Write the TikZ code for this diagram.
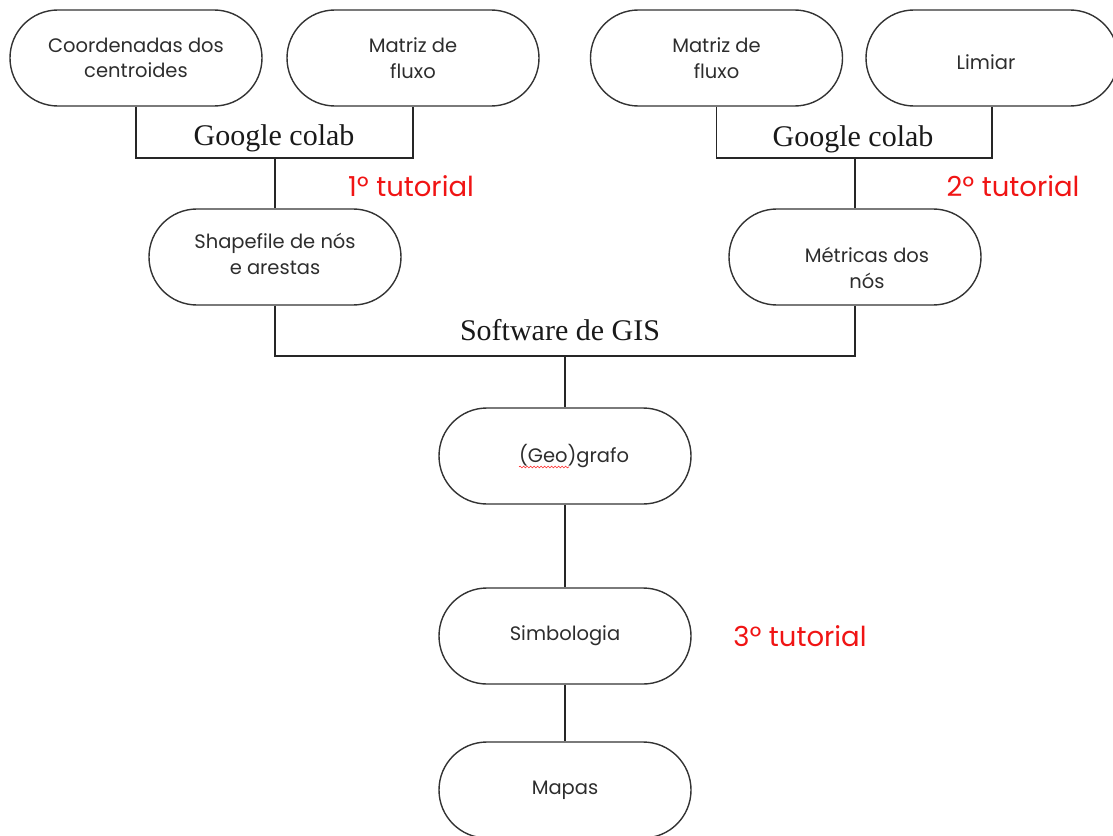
\documentclass[tikz,border=0pt]{standalone}
\usepackage{fontspec}
\setmainfont{Poppins}
\newfontfamily\serifface{Liberation Serif}
\usetikzlibrary{decorations.pathmorphing}
\definecolor{boxtext}{RGB}{45,45,45}
\definecolor{tutred}{RGB}{240,20,20}
\tikzset{
  pill/.style={draw=black!80, line width=1.4pt, rounded corners=47.9pt,
    minimum width=252pt, minimum height=96pt, inner sep=0pt, align=center,
    text=boxtext, font=\fontsize{19.5}{25.5}\selectfont},
  pilltext/.style={inner sep=0pt, align=center, text=boxtext, font=\fontsize{19.5}{26.5}\selectfont},
  link/.style={draw=black!85, line width=1.4pt},
  grouplabel/.style={font=\serifface\fontsize{30}{30}\selectfont, text=black!90, inner sep=0pt},
  tutlabel/.style={font=\fontsize{27.5}{27.5}\selectfont, text=tutred, inner sep=0pt}
}
\begin{document}
\begin{tikzpicture}[x=1pt,y=-1pt]
\useasboundingbox (0,0) rectangle (1113,835);
\begin{scope}
\clip (0,0) rectangle (1113,835);
\node[pill] (b1) at (136,58) {Coordenadas dos\\centroides};
\node[pill] (b2) at (413,58) {Matriz de\\fluxo};
\node[pill] (b3) at (716.5,58) {Matriz de\\fluxo};
\node[pill] (b4) at (992,58) {};
\node[pill] (b5) at (275,257) {};
\node[pill] (b6) at (855,257) {};
\node[pill] (b7) at (565,456) {\hspace*{18pt}(Geo)grafo};
\node[pill] (b8) at (565,636) {Simbologia};
\node[pill] (b9) at (565,790) {Mapas};
\end{scope}
\node[pilltext] (b4t) at (986,62) {Limiar};
\node[pilltext] (b5t) at (275,254) {Shapefile de nós\\e arestas};
\node[pilltext] (b6t) at (867,268) {Métricas dos\\nós};

\coordinate (j1) at (275,158);
\coordinate (j2) at (855,158);
\coordinate (j3) at (565,356);

\draw[link] (b1.south) |- (j1) -| (b2.south);
\draw[link] (j1) -- (b5.north);
\draw[link] (b3.south) |- (j2) -| (b4.south);
\draw[link] (j2) -- (b6.north);
\draw[link] (b5.south) |- (j3) -| (b6.south);
\draw[link] (j3) -- (b7.north);
\draw[link] (b7.south) -- (b8.north);
\draw[link] (b8.south) -- (b9.north);

\node[grouplabel] (g1) at (274,138) {Google colab};
\node[grouplabel] (g2) at (853,139) {Google colab};
\node[grouplabel] (g3) at (560,330) {Software de GIS};

\node[tutlabel] (t1) at (411,186) {1º tutorial};
\node[tutlabel] (t2) at (1013,186) {2º tutorial};
\node[tutlabel] (t3) at (800,636) {3º tutorial};

\coordinate (sq1) at (519,467);
\coordinate (sq2) at (569,467);
\draw[red!85, line width=0.6pt, decorate, decoration={snake, amplitude=0.9pt, segment length=3.5pt}] (sq1) -- (sq2);
\end{tikzpicture}
\end{document}
